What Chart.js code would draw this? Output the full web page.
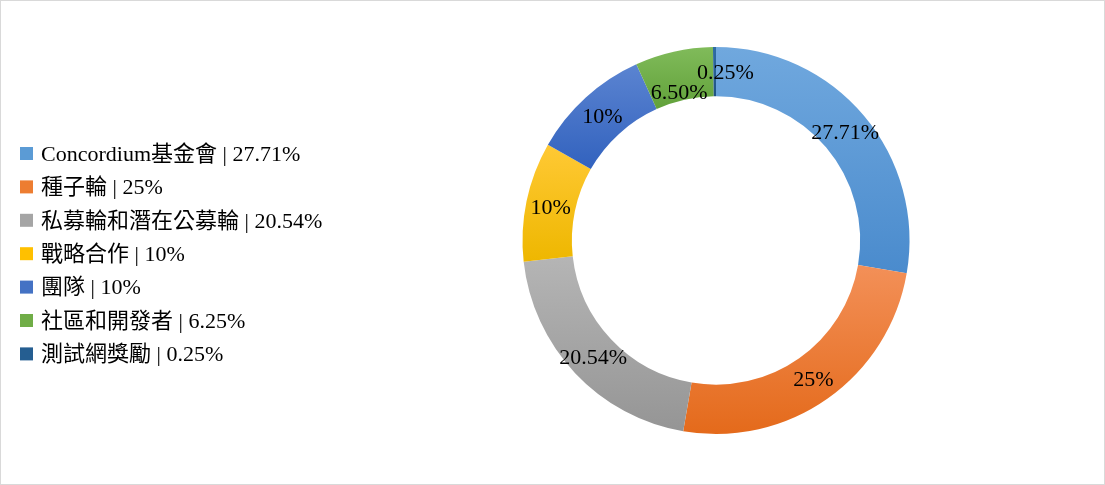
<!DOCTYPE html>
<html>
<head>
<meta charset="utf-8">
<script src="https://cdn.jsdelivr.net/npm/chart.js@4/dist/chart.umd.min.js"></script>
<style>
  body { margin: 0; background: #fff; }
  canvas { display: block; }
</style>
</head>
<body>
<canvas id="donut" width="1105" height="485"></canvas>
<script>
// data
const labels = ['Concordium基金會', '種子輪', '私募輪和潛在公募輪', '戰略合作', '團隊', '社區和開發者', '測試網獎勵'];
const legendPct = ['27.71%', '25%', '20.54%', '10%', '10%', '6.25%', '0.25%'];
const values = [27.71, 25, 20.54, 10, 10, 6.5, 0.25];
const sliceText = ['27.71%', '25%', '20.54%', '10%', '10%', '6.50%', '0.25%'];

// slice colours: lighter at the top of each slice, darker at the bottom
const topColors = ['#70a8de', '#f39058', '#b5b5b5', '#ffc935', '#5b84d1', '#80bb5a', '#2f6ca4'];
const bottomColors = ['#4a8bcd', '#e46a1b', '#959595', '#eeb700', '#3262be', '#61a13a', '#1f5283'];
const legendColors = ['#5b9bd5', '#ed7d31', '#a5a5a5', '#ffc000', '#4472c4', '#70ad47', '#255e91'];

const FONT = '"Liberation Serif", "Times New Roman", "Noto Sans CJK TC", serif';
const CUTOUT = 0.745;

// each slice gets its own top-to-bottom gradient
function sliceGradient(c) {
    const chart = c.chart;
    const area = chart.chartArea;
    const i = c.dataIndex;
    if (!area) return bottomColors[i];
    const data = c.dataset.data;
    const total = data.reduce((a, b) => a + b, 0);
    let before = 0;
    for (let k = 0; k < i; k++) before += data[k];
    const f0 = before / total;
    const f1 = (before + data[i]) / total;
    const cx = (area.left + area.right) / 2;
    const cy = (area.top + area.bottom) / 2;
    const R = Math.min(area.right - area.left, area.bottom - area.top) / 2;
    const r = R * CUTOUT;
    let yMin = Infinity, yMax = -Infinity;
    for (let s = 0; s <= 60; s++) {
        const t = -Math.PI / 2 + (f0 + (f1 - f0) * s / 60) * Math.PI * 2;
        [R, r].forEach(rad => {
            const y = cy + rad * Math.sin(t);
            yMin = Math.min(yMin, y);
            yMax = Math.max(yMax, y);
        });
    }
    const g = chart.ctx.createLinearGradient(0, yMin, 0, yMax + 0.01);
    g.addColorStop(0, topColors[i]);
    g.addColorStop(1, bottomColors[i]);
    return g;
}

// thin frame around the whole picture
const framePlugin = {
    id: 'frame',
    beforeDraw(chart) {
        const ctx = chart.ctx;
        ctx.save();
        ctx.fillStyle = '#fff';
        ctx.fillRect(0, 0, chart.width, chart.height);
        ctx.strokeStyle = '#d9d9d9';
        ctx.lineWidth = 1;
        ctx.strokeRect(0.5, 0.5, chart.width - 1, chart.height - 1);
        ctx.restore();
    }
};

// percentage text in the middle of each ring slice,
// crowded neighbours get pushed apart like Excel does
const sliceLabels = {
    id: 'sliceLabels',
    afterDatasetsDraw(chart) {
        const ctx = chart.ctx;
        const meta = chart.getDatasetMeta(0);
        ctx.save();
        ctx.font = '22px ' + FONT;
        ctx.fillStyle = '#000';
        ctx.textAlign = 'center';
        ctx.textBaseline = 'middle';
        const boxH = 20;
        const pos = meta.data.map((arc, i) => {
            const p = arc.tooltipPosition();
            return { x: p.x, y: p.y + 2, w: ctx.measureText(sliceText[i]).width };
        });
        for (let i = 1; i < pos.length; i++) {
            const a = pos[i - 1], b = pos[i];
            const ox = (a.w + b.w) / 2 - Math.abs(a.x - b.x);
            const oy = boxH - Math.abs(a.y - b.y);
            if (ox > 0 && oy > 0) {
                const low = a.y >= b.y ? a : b;
                low.y += oy;
                const small = values[i] < values[i - 1] ? b : a;
                small.x += ox / 2;
            }
        }
        pos.forEach((p, i) => ctx.fillText(sliceText[i], p.x, p.y));
        ctx.restore();
    }
};

// legend on the left, one row per category
const sideLegend = {
    id: 'sideLegend',
    afterDraw(chart) {
        const ctx = chart.ctx;
        ctx.save();
        ctx.font = '22px ' + FONT;
        ctx.textBaseline = 'middle';
        ctx.textAlign = 'left';
        labels.forEach((name, i) => {
            const y = 154 + i * 33.4;
            ctx.fillStyle = legendColors[i];
            ctx.fillRect(20, y - 7, 13, 13);
            ctx.fillStyle = '#000';
            ctx.fillText(name + ' | ' + legendPct[i], 41, y + 1);
        });
        ctx.restore();
    }
};

new Chart(document.getElementById('donut'), {
    type: 'doughnut',
    data: {
        labels: labels,
        datasets: [{
            data: values,
            backgroundColor: sliceGradient,
            borderWidth: 0
        }]
    },
    options: {
        responsive: false,
        animation: false,
        events: [],
        cutout: (CUTOUT * 100) + '%',
        layout: {
            padding: { left: 522, right: 195, top: 47, bottom: 51 }
        },
        plugins: {
            legend: { display: false },
            tooltip: { enabled: false }
        }
    },
    plugins: [framePlugin, sliceLabels, sideLegend]
});
</script>
</body>
</html>
